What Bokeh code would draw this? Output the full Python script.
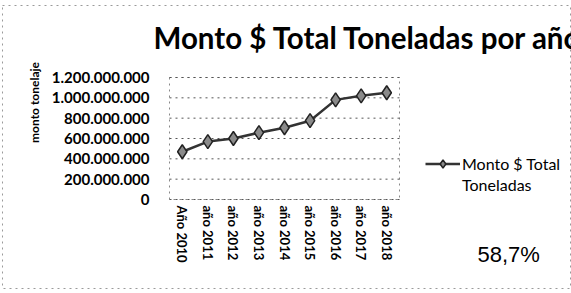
import math
from bokeh.plotting import figure
from bokeh.models import (ColumnDataSource, FixedTicker, Legend, LegendItem, Label,
                          LinearAxis, Range1d)
from bokeh.embed import file_html
from bokeh.resources import INLINE

# ---------------- data ----------------
years = ["Año 2010", "año 2011", "año 2012", "año 2013", "año 2014",
         "año 2015", "año 2016", "año 2017", "año 2018"]
montos = [470e6, 570e6, 600e6, 657e6, 706e6, 775e6, 980e6, 1020e6, 1050e6]
y_ticks = [0, 200e6, 400e6, 600e6, 800e6, 1000e6, 1200e6]
y_tick_labels = ["0", "200.000.000", "400.000.000", "600.000.000", "800.000.000",
                 "1.000.000.000", "1.200.000.000"]
title_text = "Monto $ Total Toneladas por año"
y_label = "monto tonelaje"
series_name = "Monto $ Total"
series_name2 = "Toneladas"
pct_text = "58,7%"

# ---------------- layout (pixels) ----------------
W, H = 571, 293
FL, FT, FB, FR = 2, 5, 288, 571          # frame (whole chart box)
PL, PR, PT, PB = 169, 399, 77, 199       # plot area inside the frame

n = len(years)
ymax = y_ticks[-1]
ux = (PR - PL) / n                       # px per category
uy = (PB - PT) / ymax                    # px per unit value
x_range = Range1d(-(PL - FL) / ux, (FR - PL) / ux)
y_range = Range1d(-(FB - PB) / uy, (PB - FT) / uy)

def sx(X):   # screen x relative to frame left
    return X - FL

def sy(Y):   # screen y relative to frame bottom (upwards)
    return FB - Y

p = figure(width=W, height=H, x_range=x_range, y_range=y_range,
           output_backend="svg", toolbar_location=None, x_axis_type=None,
           y_axis_type=None, min_border_left=FL, min_border_right=W - FR,
           min_border_top=FT, min_border_bottom=H - FB)
p.background_fill_color = "white"
p.border_fill_color = "white"
p.outline_line_color = "#9a9a9a"
p.outline_line_dash = "dotted"
p.outline_line_width = 1
p.xgrid.visible = False
p.ygrid.visible = False

xs = [i + 0.5 for i in range(n)]

# axes fixed at the plot-area edges
yaxis = LinearAxis(fixed_location=0, ticker=FixedTicker(ticks=y_ticks))
yaxis.major_label_overrides = {t: l for t, l in zip(y_ticks, y_tick_labels)}
yaxis.major_label_text_font = "Lato"
yaxis.major_label_text_font_style = "bold"
yaxis.major_label_text_font_size = "15px"
yaxis.major_label_text_color = "black"
yaxis.major_tick_out = 0
yaxis.major_tick_in = 0
yaxis.minor_tick_out = 0
yaxis.minor_tick_in = 0
yaxis.major_label_standoff = 20
yaxis.axis_line_color = None
yaxis.major_tick_line_color = None
yaxis.minor_tick_line_color = None
p.add_layout(yaxis, "left")

xaxis = LinearAxis(fixed_location=0, ticker=FixedTicker(ticks=xs))
xaxis.major_label_overrides = {x: l for x, l in zip(xs, years)}
xaxis.major_label_orientation = "vertical"
xaxis.major_label_text_font = "Lato"
xaxis.major_label_text_font_style = "bold"
xaxis.major_label_text_font_size = "13px"
xaxis.major_label_text_color = "black"
xaxis.major_tick_out = 0
xaxis.major_tick_in = 0
xaxis.minor_tick_out = 0
xaxis.minor_tick_in = 0
xaxis.major_label_standoff = 6
xaxis.axis_line_color = None
xaxis.major_tick_line_color = None
xaxis.minor_tick_line_color = None
p.add_layout(xaxis, "below")

# plot-area outline and horizontal grid lines (only over the plot area)
p.quad(left=[0], right=[n], bottom=[0], top=[ymax], fill_color=None,
       line_color="#888888", line_dash="dotted", line_width=1)
k = len(y_ticks)
p.segment(x0=[0] * k, x1=[n] * k, y0=y_ticks, y1=y_ticks,
          line_color="#555555", line_dash="dotted", line_width=1)

src = ColumnDataSource(dict(x=xs, y=montos))
ln = p.line("x", "y", source=src, line_color="#333333", line_width=2.5)
mk = p.scatter("x", "y", source=src, marker="diamond", size=14,
               fill_color="#8a8a8a", line_color="#222222", line_width=1.5)

# texts
p.add_layout(Label(x=sx(153), y=sy(37), x_units="screen", y_units="screen",
                   text=title_text, text_font="Lato", text_font_style="bold",
                   text_font_size="29.5px", text_color="black",
                   text_baseline="alphabetic"))
p.add_layout(Label(x=sx(34), y=sy(102), x_units="screen", y_units="screen",
                   text=y_label, text_font="Lato", text_font_style="bold",
                   text_font_size="12px", text_color="black", angle=math.pi / 2,
                   text_align="center", text_baseline="middle"))
p.add_layout(Label(x=sx(477), y=sy(254), x_units="screen", y_units="screen",
                   text=pct_text, text_font="Liberation Sans",
                   text_font_size="22px", text_color="black",
                   text_baseline="middle"))

legend = Legend(items=[LegendItem(label=series_name, renderers=[ln, mk]),
                       LegendItem(label=series_name2, renderers=[])],
                location=(sx(425), sy(195)), padding=0, margin=0, spacing=0,
                glyph_width=35, glyph_height=21, label_height=21,
                label_standoff=2, border_line_alpha=0,
                background_fill_alpha=0, label_text_font="Lato",
                label_text_font_size="16px", label_text_color="black")
p.add_layout(legend)

open("out.html", "w").write(file_html(p, INLINE))
